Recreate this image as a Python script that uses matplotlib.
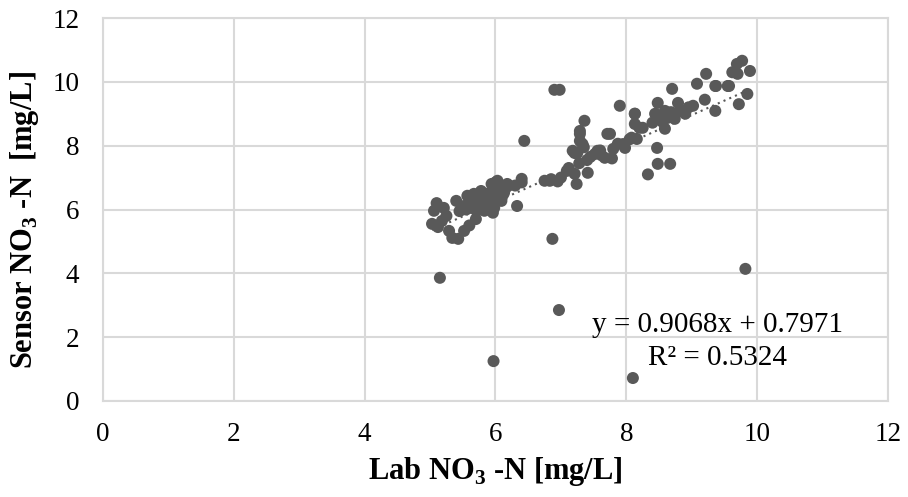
import matplotlib
matplotlib.use("Agg")
import matplotlib.pyplot as plt
import numpy as np

plt.rcParams['font.family'] = ['Liberation Serif', 'DejaVu Serif']
plt.rcParams['mathtext.fontset'] = 'custom'
plt.rcParams['mathtext.rm'] = 'Liberation Serif'
plt.rcParams['mathtext.bf'] = 'Liberation Serif:bold'

lab_no3 = [
    5.10, 5.06, 5.03, 5.18, 5.29, 5.34, 5.52, 5.43, 5.21, 5.40, 5.57, 5.67, 5.78, 5.94,
    6.03, 6.18, 6.40, 6.33, 5.71, 5.83, 5.98, 6.09, 5.94, 5.78, 5.63, 6.01, 6.13, 5.87,
    5.52, 5.12, 5.25, 5.45, 5.60, 5.70, 5.85, 5.90, 5.95, 6.00, 6.05, 6.10, 6.15, 6.20,
    5.75, 5.65, 5.55, 5.90, 6.00, 5.80, 6.10, 6.05, 5.96, 6.44, 6.40, 6.30,
    6.75, 6.83, 6.87, 6.98, 6.90, 7.09, 7.24, 7.41, 7.21, 7.18, 7.29, 7.36, 7.25, 7.52,
    7.71, 7.87, 7.67, 7.56, 8.08, 7.29, 7.29, 7.21, 7.55, 7.75, 7.98, 7.90, 8.13, 8.13,
    8.20, 8.47, 8.33, 8.48, 8.67, 8.70, 9.08, 9.36, 9.55, 8.48, 8.79, 9.02, 9.20, 9.36,
    8.13, 8.25, 8.44, 8.59, 8.63, 8.74, 8.90, 8.59, 8.40, 8.16, 9.69, 9.77, 9.89, 9.70,
    9.22, 9.37, 9.57, 9.85, 9.72, 7.00, 7.12, 7.35, 7.45, 7.62, 7.80, 7.95, 8.05, 8.52,
    8.82, 8.95, 7.33, 7.40, 7.60, 7.28, 7.78, 8.55, 8.68, 9.62, 6.85, 6.95, 5.15, 5.97,
    6.97, 8.10, 9.82,
]
sensor_no3 = [
    6.20, 5.96, 5.55, 5.64, 5.33, 5.11, 5.33, 5.08, 6.05, 6.27, 6.43, 6.49, 6.58, 6.80,
    6.90, 6.80, 6.96, 6.11, 5.96, 5.96, 6.05, 6.27, 6.27, 6.27, 6.05, 6.52, 6.52, 6.49,
    6.11, 5.45, 5.80, 5.95, 5.50, 5.70, 6.15, 6.40, 6.60, 6.45, 6.70, 6.40, 6.65, 6.75,
    6.10, 6.20, 6.00, 6.00, 6.85, 6.35, 6.55, 6.35, 5.90, 8.15, 6.85, 6.75,
    6.90, 6.90, 5.08, 9.75, 9.75, 7.21, 6.80, 7.15, 7.12, 7.84, 8.46, 8.78, 7.77, 7.74,
    8.37, 8.06, 7.62, 7.84, 8.25, 8.15, 8.37, 7.77, 7.77, 8.37, 7.93, 9.25, 9.00, 8.68,
    8.56, 7.93, 7.10, 7.43, 7.43, 9.78, 9.94, 9.87, 9.87, 9.34, 9.34, 9.25, 9.44, 9.09,
    9.00, 8.56, 9.00, 9.09, 8.87, 8.84, 9.00, 8.53, 8.72, 8.21, 10.56, 10.66, 10.34, 10.25,
    10.25, 9.87, 9.87, 9.62, 9.30, 7.00, 7.30, 7.95, 7.65, 7.70, 7.90, 8.05, 8.20, 8.90,
    9.10, 9.20, 8.05, 7.55, 7.85, 7.45, 7.60, 8.75, 9.05, 10.30, 6.95, 6.88, 3.86, 1.25,
    2.85, 0.72, 4.14,
]
slope = 0.9068
intercept = 0.7971
r2 = 0.5324

fig = plt.figure(figsize=(9.08, 4.97), dpi=100)
# axes: left 103 px, right 888 px, top 18 px, bottom 401 px
ax = fig.add_axes([103 / 908, 1 - 401 / 497, 785 / 908, 383 / 497])

ax.scatter(lab_no3, sensor_no3, s=75, color='#595959', edgecolors='none', zorder=3)
xf = np.array([min(lab_no3), max(lab_no3)])
ax.plot(xf, slope * xf + intercept, linestyle=(0, (1, 2)), color='#595959', linewidth=1.5, zorder=2)

ax.set_xlim(0, 12)
ax.set_ylim(0, 12)
ax.set_xticks(range(0, 13, 2))
ax.set_yticks(range(0, 13, 2))
ax.grid(True, color='#d9d9d9', linewidth=1.5, zorder=0)
ax.set_axisbelow(True)
for s in ax.spines.values():
    s.set_color('#d9d9d9')
    s.set_linewidth(1.5)
ax.tick_params(length=0, labelsize=19.5, labelcolor='black')
ax.tick_params(axis='y', pad=17)
ax.tick_params(axis='x', pad=15)

ax.set_xlabel(r'Lab NO$_\mathbf{3}$ -N [mg/L]', fontsize=22, fontweight='bold')
ax.set_ylabel(r'Sensor NO$_\mathbf{3}$ -N  [mg/L]', fontsize=22, fontweight='bold')
ax.xaxis.label.set_va('center')
ax.yaxis.label.set_va('center')
ax.xaxis.set_label_coords(0.5, (401 - 471) / 383)
ax.yaxis.set_label_coords((25 - 103) / 785, (401 - 220) / 383)

ax.text(9.40, 2.38, f'y = {slope:.4f}x + {intercept:.4f}', fontsize=21, ha='center', va='center')
ax.text(9.40, 1.35, f'R² = {r2:.4f}', fontsize=21, ha='center', va='center')

fig.savefig('out.png', dpi=100)
